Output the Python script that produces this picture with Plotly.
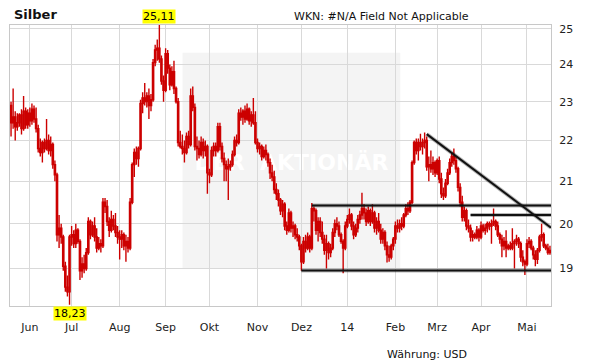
import math
import pandas as pd
import plotly.graph_objects as go

# ---------------- data ----------------
START, END = "2013-05-21", "2014-05-16"
dates = [d.strftime("%Y-%m-%d") for d in pd.bdate_range(START, END)]

open_ = [
    22.90, 22.45, 22.60, 22.35, 22.45, 22.65, 22.30, 22.75, 22.40, 22.70,
    22.50, 22.80, 22.55, 22.30, 21.80, 21.70, 21.95, 21.80, 22.00, 21.75,
    21.90, 21.40, 21.15, 19.75, 19.90, 19.70, 19.05, 18.60, 18.50, 19.70,
    19.75, 19.55, 19.85, 19.60, 18.95, 19.10, 19.00, 19.35, 20.05, 19.75,
    19.95, 19.70, 19.45, 19.55, 19.50, 20.50, 20.40, 20.05, 19.85, 20.10,
    19.95, 19.80, 19.70, 19.65, 19.75, 19.50, 19.60, 19.45, 20.50, 21.40,
    21.70, 21.55, 21.80, 22.95, 23.10, 23.00, 23.15, 22.90, 23.05, 24.05,
    24.40, 24.45, 24.15, 23.55, 23.30, 24.30, 23.90, 23.45, 23.80, 23.35,
    23.00, 21.95, 21.85, 21.80, 21.70, 22.10, 21.90, 23.15, 22.85, 21.85,
    21.80, 21.65, 21.95, 21.75, 21.85, 21.20, 21.15, 21.75, 21.85, 21.75,
    22.35, 21.85, 21.55, 21.40, 21.30, 21.35, 21.40, 21.65, 22.00, 21.95,
    22.70, 22.60, 22.75, 22.55, 22.80, 22.50, 22.65, 22.45, 21.95, 21.80,
    21.85, 21.60, 21.75, 21.65, 21.45, 21.20, 21.10, 20.80, 20.70, 20.55,
    20.30, 20.45, 19.95, 19.85, 20.25, 19.90, 19.95, 19.75, 19.70, 19.50,
    19.15, 19.60, 19.45, 19.70, 19.45, 20.35, 20.30, 19.85, 20.05, 19.80,
    19.65, 19.40, 19.55, 19.35, 19.45, 19.80, 20.00, 19.95, 19.75, 19.60,
    19.45, 19.95, 20.10, 20.20, 19.95, 19.75, 19.90, 20.10, 20.20, 20.35,
    20.25, 20.05, 20.30, 20.05, 20.25, 19.90, 20.05, 19.85, 19.65, 19.80,
    19.50, 19.30, 19.25, 19.50, 19.65, 19.95, 19.90, 20.00, 19.95, 20.20,
    20.35, 20.30, 20.50, 21.45, 21.95, 21.75, 21.95, 21.85, 21.95, 22.00,
    21.35, 21.40, 21.30, 21.45, 21.20, 21.50, 21.05, 20.70, 20.65, 20.95,
    21.20, 21.45, 21.60, 21.50, 21.30, 20.85, 20.50, 20.15, 20.30, 19.95,
    19.90, 19.70, 19.75, 19.70, 19.85, 19.70, 19.95, 19.85, 19.90, 20.00,
    19.95, 20.00, 20.05, 19.95, 19.75, 19.65, 19.50, 19.60, 19.45, 19.50,
    19.45, 19.55, 19.60, 19.65, 19.55, 19.25, 19.15, 19.10, 19.55, 19.60,
    19.45, 19.30, 19.20, 19.40, 19.70, 19.75, 19.50, 19.45, 19.35,
]

high = [
    23.00, 23.35, 22.75, 22.70, 22.70, 22.80, 23.15, 22.85, 22.80, 22.85,
    22.95, 22.90, 22.85, 22.40, 22.05, 22.00, 22.05, 22.55, 22.15, 22.10,
    21.95, 21.50, 21.20, 20.20, 20.00, 19.75, 19.15, 18.85, 19.75, 19.95,
    19.85, 20.00, 19.90, 19.65, 19.25, 19.30, 19.45, 20.15, 20.10, 20.05,
    20.15, 19.90, 19.70, 19.65, 20.60, 20.60, 20.55, 20.15, 20.30, 20.20,
    20.25, 19.95, 19.85, 19.85, 19.80, 19.75, 19.70, 20.60, 21.45, 21.80,
    21.85, 21.85, 23.05, 23.25, 23.50, 23.25, 23.35, 23.20, 24.15, 24.55,
    24.70, 25.11, 24.25, 23.70, 24.45, 24.40, 24.00, 23.95, 24.10, 23.40,
    23.10, 22.25, 22.15, 22.00, 22.20, 22.25, 23.35, 23.40, 22.95, 22.10,
    22.00, 22.10, 22.05, 22.00, 21.90, 21.30, 21.85, 21.95, 21.95, 22.45,
    22.45, 21.95, 21.70, 21.50, 21.55, 21.50, 21.75, 22.10, 22.15, 22.80,
    22.85, 22.80, 22.90, 22.95, 22.85, 22.75, 23.10, 22.75, 22.05, 21.95,
    21.90, 21.85, 21.90, 21.70, 21.55, 21.40, 21.25, 20.95, 20.80, 20.60,
    20.55, 20.50, 20.05, 20.35, 20.30, 20.05, 20.00, 19.90, 19.75, 19.55,
    19.70, 19.75, 19.80, 19.75, 20.48, 20.40, 20.35, 20.15, 20.15, 20.05,
    19.75, 19.75, 19.60, 19.55, 19.90, 20.10, 20.15, 20.05, 19.80, 19.65,
    20.05, 20.20, 20.35, 20.25, 20.05, 20.00, 20.20, 20.30, 20.72, 20.45,
    20.35, 20.40, 20.35, 20.45, 20.30, 20.15, 20.25, 20.00, 19.90, 19.85,
    19.60, 19.50, 19.55, 19.70, 20.05, 20.10, 20.10, 20.15, 20.25, 20.45,
    20.50, 20.55, 21.50, 22.00, 22.05, 22.05, 22.17, 22.05, 22.20, 22.10,
    21.60, 21.75, 21.60, 21.50, 21.55, 21.60, 21.20, 20.85, 21.05, 21.30,
    21.55, 21.70, 21.80, 21.60, 21.35, 20.95, 20.65, 20.40, 20.35, 20.10,
    19.98, 19.85, 19.80, 19.95, 19.90, 20.05, 20.00, 20.00, 20.05, 20.05,
    20.10, 20.35, 20.10, 20.05, 19.80, 19.75, 19.70, 19.85, 19.55, 19.60,
    19.90, 19.65, 19.75, 19.70, 19.60, 19.40, 19.20, 19.65, 19.70, 19.65,
    19.50, 19.40, 19.45, 19.75, 20.00, 19.80, 19.55, 19.55, 19.50,
]

low = [
    22.10, 22.30, 22.00, 22.25, 22.35, 22.15, 22.25, 22.30, 22.30, 22.35,
    22.40, 22.45, 22.20, 21.70, 21.60, 21.45, 21.70, 21.75, 21.65, 21.60,
    21.30, 21.00, 19.60, 19.45, 19.55, 18.95, 18.50, 18.40, 18.23, 19.50,
    19.45, 19.45, 19.55, 18.75, 18.80, 18.90, 18.95, 19.30, 19.65, 19.70,
    19.60, 19.35, 19.40, 19.35, 19.45, 20.25, 19.95, 19.70, 19.80, 19.85,
    19.70, 19.55, 19.20, 19.45, 19.40, 19.15, 19.35, 19.40, 20.45, 21.10,
    21.40, 21.35, 21.75, 22.70, 22.90, 22.85, 22.55, 22.75, 23.00, 23.95,
    24.10, 24.05, 23.45, 23.00, 23.25, 23.75, 23.30, 23.40, 23.20, 22.95,
    21.85, 21.80, 21.65, 21.45, 21.65, 21.80, 21.85, 22.75, 21.75, 21.50,
    21.55, 21.60, 21.55, 21.60, 20.70, 20.95, 21.10, 21.60, 21.60, 21.70,
    21.75, 21.45, 21.00, 21.00, 20.55, 21.25, 21.35, 21.60, 21.85, 21.90,
    22.50, 22.40, 22.45, 22.50, 22.40, 22.35, 22.40, 21.90, 21.70, 21.65,
    21.50, 21.55, 21.50, 21.35, 21.05, 21.00, 20.70, 20.55, 20.40, 20.20,
    20.15, 19.85, 19.75, 19.80, 19.80, 19.70, 19.65, 19.60, 19.40, 18.95,
    19.10, 19.35, 19.40, 19.35, 19.40, 20.05, 19.75, 19.60, 19.70, 19.55,
    19.30, 19.00, 19.20, 19.25, 19.40, 19.70, 19.85, 19.70, 19.55, 18.90,
    19.40, 19.90, 20.00, 19.85, 19.65, 19.70, 19.80, 20.00, 20.10, 20.10,
    19.95, 20.00, 19.95, 20.00, 19.80, 19.75, 19.80, 19.55, 19.55, 19.40,
    19.13, 19.15, 19.20, 19.40, 19.55, 19.80, 19.80, 19.85, 19.90, 20.15,
    20.20, 20.25, 20.45, 21.40, 21.65, 21.50, 21.75, 21.65, 21.80, 21.25,
    21.00, 21.20, 21.15, 21.10, 21.15, 20.95, 20.60, 20.55, 20.60, 20.90,
    21.15, 21.35, 21.40, 21.20, 20.75, 20.40, 20.05, 20.05, 19.85, 19.80,
    19.60, 19.60, 19.65, 19.65, 19.60, 19.65, 19.80, 19.75, 19.80, 19.85,
    19.55, 19.95, 19.85, 19.70, 19.55, 19.25, 19.40, 19.25, 19.40, 19.40,
    19.40, 19.00, 19.50, 19.45, 19.15, 19.05, 18.86, 19.05, 19.45, 19.40,
    19.20, 19.05, 19.10, 19.35, 19.60, 19.45, 19.40, 19.30, 19.30,
]

close = [
    22.45, 22.60, 22.35, 22.45, 22.65, 22.30, 22.75, 22.40, 22.70, 22.50,
    22.80, 22.55, 22.30, 21.80, 21.70, 21.95, 21.80, 22.00, 21.75, 21.90,
    21.40, 21.15, 19.75, 19.90, 19.70, 19.05, 18.60, 18.50, 19.70, 19.75,
    19.55, 19.85, 19.60, 18.95, 19.10, 19.00, 19.35, 20.05, 19.75, 19.95,
    19.70, 19.45, 19.55, 19.50, 20.50, 20.40, 20.05, 19.85, 20.10, 19.95,
    19.80, 19.70, 19.65, 19.75, 19.50, 19.60, 19.45, 20.50, 21.40, 21.70,
    21.55, 21.80, 22.95, 23.10, 23.00, 23.15, 22.90, 23.05, 24.05, 24.40,
    24.45, 24.15, 23.55, 23.30, 24.30, 23.90, 23.45, 23.80, 23.35, 23.00,
    21.95, 21.85, 21.80, 21.70, 22.10, 21.90, 23.15, 22.85, 21.85, 21.80,
    21.65, 21.95, 21.75, 21.85, 21.20, 21.15, 21.75, 21.85, 21.75, 22.35,
    21.85, 21.55, 21.40, 21.30, 21.35, 21.40, 21.65, 22.00, 21.95, 22.70,
    22.60, 22.75, 22.55, 22.80, 22.50, 22.65, 22.45, 21.95, 21.80, 21.85,
    21.60, 21.75, 21.65, 21.45, 21.20, 21.10, 20.80, 20.70, 20.55, 20.30,
    20.45, 19.95, 19.85, 20.25, 19.90, 19.95, 19.75, 19.70, 19.50, 19.15,
    19.60, 19.45, 19.70, 19.45, 20.35, 20.30, 19.85, 20.05, 19.80, 19.65,
    19.40, 19.55, 19.35, 19.45, 19.80, 20.00, 19.95, 19.75, 19.60, 19.45,
    19.95, 20.10, 20.20, 19.95, 19.75, 19.90, 20.10, 20.20, 20.35, 20.25,
    20.05, 20.30, 20.05, 20.25, 19.90, 20.05, 19.85, 19.65, 19.80, 19.50,
    19.30, 19.25, 19.50, 19.65, 19.95, 19.90, 20.00, 19.95, 20.20, 20.35,
    20.30, 20.50, 21.45, 21.95, 21.75, 21.95, 21.85, 21.95, 22.00, 21.35,
    21.40, 21.30, 21.45, 21.20, 21.50, 21.05, 20.70, 20.65, 20.95, 21.20,
    21.45, 21.60, 21.50, 21.30, 20.85, 20.50, 20.15, 20.30, 19.95, 19.90,
    19.70, 19.75, 19.70, 19.85, 19.70, 19.95, 19.85, 19.90, 20.00, 19.95,
    20.00, 20.05, 19.95, 19.75, 19.65, 19.50, 19.60, 19.45, 19.50, 19.45,
    19.55, 19.60, 19.65, 19.55, 19.25, 19.15, 19.10, 19.55, 19.60, 19.45,
    19.30, 19.20, 19.40, 19.70, 19.75, 19.50, 19.45, 19.35, 19.40,
]

month_labels = ["Jun", "Jul", "Aug", "Sep", "Okt", "Nov", "Dez", "14",
                "Feb", "Mrz", "Apr", "Mai"]
y_ticks = [19, 20, 21, 22, 23, 24, 25]

# trend lines: start date, start value, value at right edge
trend_start = ["2013-12-09", "2013-12-02", "2014-03-25", "2014-02-24"]
trend_y0 = [20.42, 18.96, 20.20, 22.16]
trend_y1 = [20.42, 18.96, 20.20, 19.91]

assert len(open_) == len(high) == len(low) == len(close) == len(dates), \
    (len(open_), len(high), len(low), len(close), len(dates))

# ---------------- figure ----------------
N = len(dates)
x = list(range(N))
months = [d[:7] for d in dates]
month_starts = [i for i in range(1, N) if months[i] != months[i - 1]]

RED = "#cc0000"
GRID = "#d9d9d9"
FONT = "DejaVu Sans"

fig = go.Figure()
fig.add_trace(go.Candlestick(
    x=x, open=open_, high=high, low=low, close=close,
    increasing=dict(line=dict(color=RED, width=1.4), fillcolor="white"),
    decreasing=dict(line=dict(color=RED, width=1.4), fillcolor=RED),
    whiskerwidth=0, hoverinfo="skip", showlegend=False,
))

shapes = []
# watermark background block (drawn below the candles, with its label)
shapes.append(dict(type="rect", xref="paper", yref="paper",
                   x0=0.319, x1=0.7214, y0=0.135, y1=0.9014,
                   fillcolor="#f4f4f4", line=dict(width=0), layer="below",
                   label=dict(text="<b>DER  AKTIONÄR</b>",
                              textposition="middle center",
                              font=dict(family=FONT, size=22, color="white"))))
for s, a, b in zip(trend_start, trend_y0, trend_y1):
    x0 = dates.index(s)
    for w, c in ((4, "rgba(0,0,0,0.28)"), (2, "#111111")):
        shapes.append(dict(type="line", xref="x", yref="y",
                           x0=x0, x1=N - 0.5, y0=a, y1=b,
                           line=dict(color=c, width=w), layer="above"))

imax = max(range(N), key=lambda i: high[i])
imin = min(range(N), key=lambda i: low[i])
fmt = lambda v: f"{v:.2f}".replace(".", ",")

annotations = [
    dict(text="<b>Silber</b>", xref="paper", yref="paper", x=0.004, y=1.0356,
         xanchor="left", yanchor="middle", showarrow=False,
         font=dict(family=FONT, size=13, color="#111")),
    dict(text="WKN: #N/A Field Not Applicable", xref="paper", yref="paper",
         x=0.687, y=1.030, xanchor="center", yanchor="middle", showarrow=False,
         font=dict(family=FONT, size=11, color="#111")),
    dict(text="Währung: USD", xref="paper", yref="paper", x=0.7717, y=-0.173,
         xanchor="center", yanchor="middle", showarrow=False,
         font=dict(family=FONT, size=11, color="#111")),
    dict(text=fmt(high[imax]), xref="x", yref="paper", x=imax, y=1.0,
         xanchor="center", yanchor="bottom", yshift=1, showarrow=False,
         bgcolor="#ffff00", borderpad=0,
         font=dict(family=FONT, size=11, color="#000")),
    dict(text=fmt(low[imin]), xref="x", yref="paper", x=imin, y=0.0,
         xanchor="center", yanchor="top", showarrow=False,
         bgcolor="#ffff00", borderpad=0,
         font=dict(family=FONT, size=11, color="#000")),
]

ymin = math.log10(min(low) * 0.9985)
ymax = math.log10(max(high))

# the page body adds an 8px offset, so the figure is 8px smaller than the window
fig.update_layout(
    width=603, height=356,
    margin=dict(l=2, r=60, t=17, b=58, pad=0),
    paper_bgcolor="white", plot_bgcolor="white",
    shapes=shapes, annotations=annotations,
    boxgap=0.15,
    xaxis=dict(
        range=[-0.5, N - 0.5], tickmode="array", tickvals=month_starts,
        ticktext=month_labels, showgrid=True, gridcolor=GRID, gridwidth=1,
        zeroline=False, showline=True, linecolor="#c8c8c8", mirror=True,
        ticks="outside", ticklen=11, tickcolor="rgba(0,0,0,0)",
        tickfont=dict(family=FONT, size=11, color="#222"),
        rangeslider=dict(visible=False), fixedrange=True,
    ),
    yaxis=dict(
        type="log", side="right", range=[ymin, ymax], tickmode="array",
        tickvals=y_ticks, ticktext=[str(v) for v in y_ticks],
        showgrid=True, gridcolor=GRID, gridwidth=1, zeroline=False,
        showline=True, linecolor="#c8c8c8", mirror=True,
        ticks="outside", ticklen=5, tickcolor="rgba(0,0,0,0)",
        tickfont=dict(family=FONT, size=11, color="#222"), fixedrange=True,
    ),
    hovermode=False,
)

fig.write_html("out.html")
